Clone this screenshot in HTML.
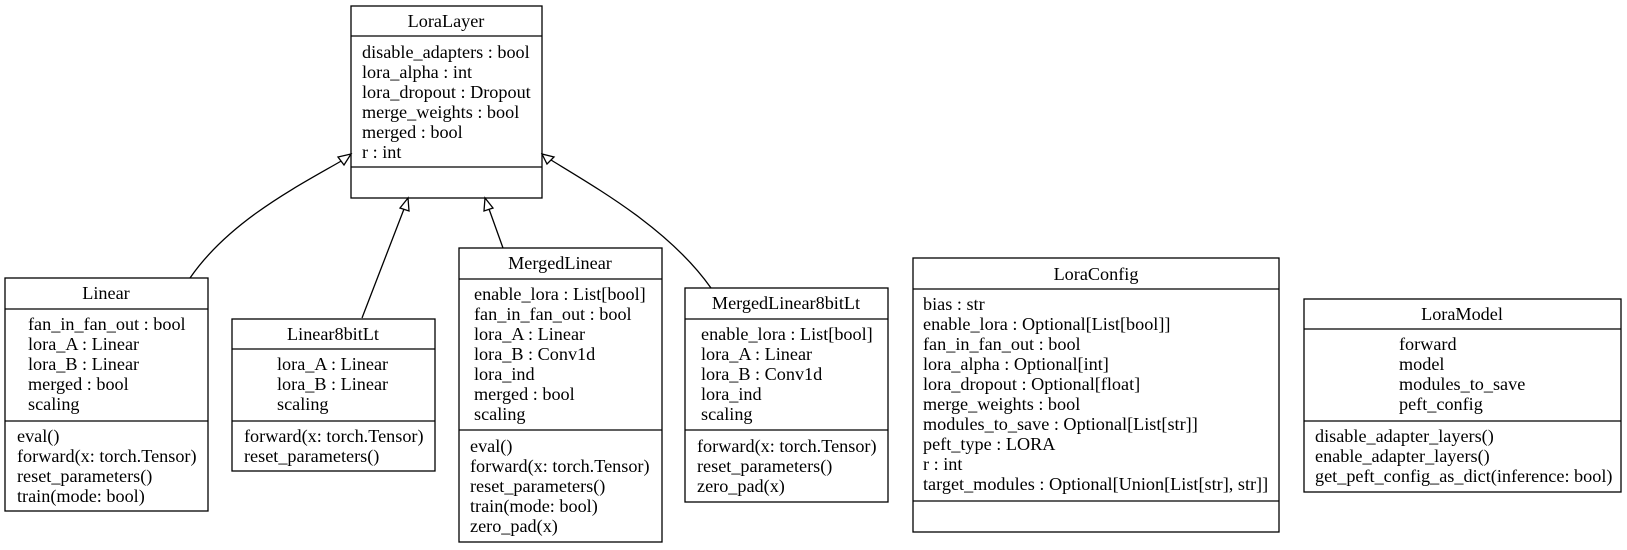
<!DOCTYPE html>
<html><head><meta charset="utf-8"><style>
html,body{margin:0;padding:0;background:#fff;}
svg text{font-family:"Liberation Serif",serif;font-size:18.2px;fill:#000;}
</style></head><body>
<svg width="1627" height="545" viewBox="0 0 1627 545" xmlns="http://www.w3.org/2000/svg">
<g fill="none" stroke="#000" stroke-width="1.3">
<rect x="351" y="6" width="191" height="192"/>
<line x1="351" y1="36" x2="542" y2="36"/><line x1="351" y1="167" x2="542" y2="167"/>
<rect x="5" y="278" width="203" height="233"/>
<line x1="5" y1="309" x2="208" y2="309"/><line x1="5" y1="421" x2="208" y2="421"/>
<rect x="232" y="319" width="203" height="152"/>
<line x1="232" y1="349" x2="435" y2="349"/><line x1="232" y1="421" x2="435" y2="421"/>
<rect x="459" y="248" width="203" height="294"/>
<line x1="459" y1="279" x2="662" y2="279"/><line x1="459" y1="430" x2="662" y2="430"/>
<rect x="685" y="288" width="203" height="214"/>
<line x1="685" y1="319" x2="888" y2="319"/><line x1="685" y1="430" x2="888" y2="430"/>
<rect x="913" y="258" width="366" height="274"/>
<line x1="913" y1="289" x2="1279" y2="289"/><line x1="913" y1="501" x2="1279" y2="501"/>
<rect x="1304" y="299" width="317" height="193"/>
<line x1="1304" y1="329" x2="1621" y2="329"/><line x1="1304" y1="421" x2="1621" y2="421"/>
<path d="M190,278 C230,220 300,185 343,160"/>
<path d="M362,318 L404,209"/>
<path d="M503,248 L489,209"/>
<path d="M711,288 C670,230 600,190 551,160"/>
</g>
<g fill="#fff" stroke="#000" stroke-width="1.3">
<polygon points="351,154 338,157 344,165"/>
<polygon points="408,198 400,208 409,211"/>
<polygon points="485,198 484,211 493,208"/>
<polygon points="542,154 547,164 554,157"/>
</g>
<g text-anchor="middle" dominant-baseline="central">
<text x="446" y="21">LoraLayer</text>
<text x="106" y="293">Linear</text>
<text x="333" y="334">Linear8bitLt</text>
<text x="560" y="263">MergedLinear</text>
<text x="786" y="303">MergedLinear8bitLt</text>
<text x="1096" y="274">LoraConfig</text>
<text x="1462" y="314">LoraModel</text>
</g>
<g dominant-baseline="central">
<text x="362" y="52">disable_adapters : bool</text>
<text x="362" y="72">lora_alpha : int</text>
<text x="362" y="92">lora_dropout : Dropout</text>
<text x="362" y="112">merge_weights : bool</text>
<text x="362" y="132">merged : bool</text>
<text x="362" y="152">r : int</text>

<text x="28" y="324">fan_in_fan_out : bool</text>
<text x="28" y="344">lora_A : Linear</text>
<text x="28" y="364">lora_B : Linear</text>
<text x="28" y="384">merged : bool</text>
<text x="28" y="404">scaling</text>
<text x="17" y="436">eval()</text>
<text x="17" y="456">forward(x: torch.Tensor)</text>
<text x="17" y="476">reset_parameters()</text>
<text x="17" y="496">train(mode: bool)</text>

<text x="277" y="364">lora_A : Linear</text>
<text x="277" y="384">lora_B : Linear</text>
<text x="277" y="404">scaling</text>
<text x="244" y="436">forward(x: torch.Tensor)</text>
<text x="244" y="456">reset_parameters()</text>

<text x="474" y="294">enable_lora : List[bool]</text>
<text x="474" y="314">fan_in_fan_out : bool</text>
<text x="474" y="334">lora_A : Linear</text>
<text x="474" y="354">lora_B : Conv1d</text>
<text x="474" y="374">lora_ind</text>
<text x="474" y="394">merged : bool</text>
<text x="474" y="414">scaling</text>
<text x="470" y="446">eval()</text>
<text x="470" y="466">forward(x: torch.Tensor)</text>
<text x="470" y="486">reset_parameters()</text>
<text x="470" y="506">train(mode: bool)</text>
<text x="470" y="526">zero_pad(x)</text>

<text x="701" y="334">enable_lora : List[bool]</text>
<text x="701" y="354">lora_A : Linear</text>
<text x="701" y="374">lora_B : Conv1d</text>
<text x="701" y="394">lora_ind</text>
<text x="701" y="414">scaling</text>
<text x="697" y="446">forward(x: torch.Tensor)</text>
<text x="697" y="466">reset_parameters()</text>
<text x="697" y="486">zero_pad(x)</text>

<text x="923" y="304">bias : str</text>
<text x="923" y="324">enable_lora : Optional[List[bool]]</text>
<text x="923" y="344">fan_in_fan_out : bool</text>
<text x="923" y="364">lora_alpha : Optional[int]</text>
<text x="923" y="384">lora_dropout : Optional[float]</text>
<text x="923" y="404">merge_weights : bool</text>
<text x="923" y="424">modules_to_save : Optional[List[str]]</text>
<text x="923" y="444">peft_type : LORA</text>
<text x="923" y="464">r : int</text>
<text x="923" y="484">target_modules : Optional[Union[List[str], str]]</text>

<text x="1399" y="344">forward</text>
<text x="1399" y="364">model</text>
<text x="1399" y="384">modules_to_save</text>
<text x="1399" y="404">peft_config</text>
<text x="1315" y="436">disable_adapter_layers()</text>
<text x="1315" y="456">enable_adapter_layers()</text>
<text x="1315" y="476">get_peft_config_as_dict(inference: bool)</text>
</g>
</svg>
</body></html>
